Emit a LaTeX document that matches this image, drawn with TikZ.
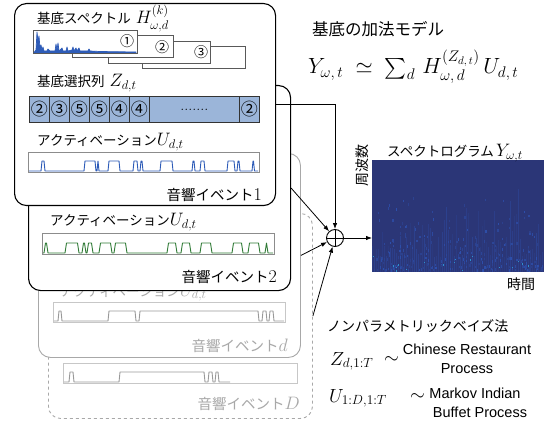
\RequirePackage{fix-cm}
\documentclass[tikz,border=0pt]{standalone}
\usepackage{amsmath}
\usepackage{fontspec}
\newfontfamily\jp{Noto Sans CJK JP}
\newfontfamily\sfa{Liberation Sans}
\usetikzlibrary{arrows.meta}
\definecolor{zfill}{HTML}{9BB5D9}
\definecolor{sigblue}{HTML}{2E5CB8}
\definecolor{siggreen}{HTML}{2F7A35}
\definecolor{evgray}{HTML}{A8A8A8}
\definecolor{specnavy}{HTML}{2B3677}
\definecolor{specblue}{HTML}{2F66DC}
\newcommand\mth[1]{{\fontsize{18}{20}\selectfont$#1$}}
\newcommand\evn[1]{{\fontsize{18}{20}\selectfont#1}}
\tikzset{
  evbox/.style={draw, rounded corners=12pt, fill=white, line width=1.1pt, anchor=north west, inner sep=0pt},
  abox/.style={draw=black!45, line width=0.6pt, anchor=north west, inner sep=0pt},
  sbox/.style={draw=black!65, fill=white, line width=0.8pt, anchor=north west, inner sep=0pt, minimum height=22pt},
  zcell/.style={draw=black!80, fill=zfill, line width=0.7pt, anchor=north west, inner sep=0pt, minimum height=26pt, font=\jp\fontsize{17}{18}\selectfont},
  lbl/.style={inner sep=0pt, anchor=base west, font=\fontsize{13.5}{16}\selectfont},
  evlbl/.style={inner sep=0pt, anchor=base east, font=\fontsize{14.5}{16}\selectfont},
  sig/.style={line width=0.9pt, line join=round},
  conn/.style={-{Latex[length=6pt,width=4.5pt]}, line width=0.8pt},
}
\begin{document}
\begin{tikzpicture}[x=1pt,y=-1pt]
\useasboundingbox (0,0) rectangle (548,427);

% ---------- event D ----------
\node[evbox, dashed, draw=evgray, line width=0.9pt, minimum width=264pt, minimum height=205pt] (evD) at (48,213) {};
\node[abox, draw=black!22, minimum width=234pt, minimum height=20pt] (aD) at (63,363) {};
\draw[sig, draw=black!40] (64,382) foreach \a/\b in {69/74,119/205,208/213,215/219} { -- (\a,382) -- (\a+1,372) -- (\b-1,372) -- (\b,382) } -- (230,382);
\node[evlbl, text=evgray] (lD) at (300,409) {{\jp 音響イベント}\evn{$D$}};

% ---------- event d ----------
\node[evbox, draw=evgray, line width=0.9pt, minimum width=262pt, minimum height=204pt] (evd) at (38,153) {};
\node[lbl, text=evgray] (actd) at (60,296) {{\jp アクティベーション}\mth{U_{d,t}}};
\node[abox, draw=black!22, minimum width=232pt, minimum height=20pt] (ad) at (53,302) {};
\draw[sig, draw=black!40] (54,321) foreach \a/\b in {58/62,108/136,139/259,262/267,269/274} { -- (\a,321) -- (\a+1,311) -- (\b-1,311) -- (\b,321) } -- (284,321);
\node[evlbl, text=evgray] (ld) at (288,351) {{\jp 音響イベント}\evn{$d$}};

% ---------- event 2 ----------
\node[evbox, minimum width=262pt, minimum height=205pt] (ev2) at (28,85) {};
\node[lbl] (act2) at (50,226) {{\jp アクティベーション}\mth{U_{d,t}}};
\node[abox, minimum width=232pt, minimum height=21pt] (a2) at (42,233) {};
\draw[sig, draw=siggreen] (43,253) foreach \a/\b in {44/48,65/79,82/86,87/93,99/112,114/127,167/177,181/191,200/212,232/243,248/260,265/268} { -- (\a,253) -- (\a+1.5,243) -- (\b-1.5,243) -- (\b,253) } -- (273,253);
\node[evlbl] (l2) at (277,283) {{\jp 音響イベント}\evn{\rmfamily 2}};

% ---------- event 1 ----------
\node[evbox, minimum width=261pt, minimum height=202pt] (ev1) at (14,3) {};
\node[lbl] (hlab) at (37,24) {{\jp 基底スペクトル}\hspace{5pt}\mth{H^{(k)}_{\omega,d}}};
\node[sbox, minimum width=103pt] (s4) at (142,46) {};
\node[sbox, minimum width=102pt] (s3) at (108,41) {};
\node[sbox, minimum width=101pt] (s2) at (72,35) {};
\node[sbox, minimum width=104pt, minimum height=23pt] (s1) at (33,30) {};
\node[inner sep=0pt, font=\jp\fontsize{14}{15}\selectfont] (n1) at (127,41) {①};
\node[inner sep=0pt, font=\jp\fontsize{14}{15}\selectfont] (n2) at (162,47) {②};
\node[inner sep=0pt, font=\jp\fontsize{14}{15}\selectfont] (n3) at (201,52) {③};
\filldraw[sigblue, line width=0.7pt, line join=round] (34,52.5) -- (36,50) -- (37,32) -- (38,41) -- (39,36) -- (40,48) -- (41,45) -- (42,50) -- (43,47) -- (44,51) -- (47,51) -- (48,49) -- (50,51) -- (55,51) -- (56,44) -- (57,50) -- (58,43) -- (59,51) -- (62,48) -- (63,51) -- (66,51) -- (67,47) -- (68,51) -- (72,50) -- (73,47) -- (74,51) -- (76,48) -- (77,51) -- (79,48) -- (80,51) -- (88,51) -- (89,49) -- (90,51) -- (100,51.5) -- (136,52) -- (136,52.6) -- cycle;

\node[lbl] (zlab) at (37,87) {{\jp 基底選択列}\hspace{5pt}\mth{Z_{d,t}}};
\node[zcell, minimum width=20pt] (z1) at (29,96) {②};
\node[zcell, minimum width=20pt] (z2) at (49,96) {③};
\node[zcell, minimum width=20pt] (z3) at (69,96) {⑤};
\node[zcell, minimum width=20pt] (z4) at (89,96) {⑤};
\node[zcell, minimum width=20pt] (z5) at (109,96) {④};
\node[zcell, minimum width=20pt] (z6) at (129,96) {④};
\node[zcell, minimum width=90pt, font=\fontsize{16}{17}\selectfont] (z7) at (149,96) {.......};
\node[zcell, minimum width=20pt] (z8) at (239,96) {②};

\node[lbl] (act1) at (37,146) {{\jp アクティベーション}\mth{U_{d,t}}};
\node[abox, minimum width=231pt, minimum height=20pt] (a1) at (28,152) {};
\draw[sig, draw=sigblue] (29,171) foreach \a/\b in {41/45,84/96,97/99,108/120,133/138,140/143,160/173,192/195,200/205,227/235,237/240,252/254.5} { -- (\a,171) -- (\a+1,161) -- (\b-1,161) -- (\b,171) } -- (258,171);
\node[evlbl] (l1) at (262,201) {{\jp 音響イベント}\evn{\rmfamily 1}};

% ---------- right column ----------
\node[inner sep=0pt, anchor=base west, font=\jp\fontsize{16.5}{18}\selectfont] (mtitle) at (312,36) {基底の加法モデル};
\node[inner sep=0pt, anchor=base west, font=\fontsize{22}{24}\selectfont] (model) at (308,74) {$Y_{\omega,\,t}\;\simeq\;\sum_{d}\,H^{(Z_{d,\,t})}_{\omega,\,d}\,U_{d,\,t}$};

% spectrogram
\node[anchor=north west, inner sep=0pt, minimum width=172pt, minimum height=112pt, fill=specnavy] (spec) at (372,160) {};
\begin{scope}
\clip (372,160) rectangle (544,272);
\pgfmathsetseed{4242}
\foreach \i in {0,...,85} {
  \pgfmathsetmacro{\hh}{15+70*rnd*rnd}
  \pgfmathsetmacro{\cc}{6+18*rnd}
  \fill[specblue!\cc!specnavy] (372+2*\i,272) rectangle ++(1.4,-\hh);
}
\foreach \i in {1,...,260} {
  \pgfmathsetmacro{\xx}{372+171*rnd}
  \pgfmathsetmacro{\yy}{272-80*rnd*rnd}
  \pgfmathsetmacro{\cc}{18+35*rnd}
  \fill[specblue!\cc!specnavy] (\xx,\yy) rectangle ++(1.2,-2.5);
}
\foreach \i in {1,...,18} {
  \pgfmathsetmacro{\xx}{372+171*rnd}
  \pgfmathsetmacro{\yy}{272-15*rnd}
  \fill[cyan!50!specblue] (\xx,\yy) rectangle ++(1,-1.5);
}
\end{scope}
\node[inner sep=0pt, anchor=base west, font=\fontsize{13.5}{15}\selectfont] (speclab) at (387,157) {{\jp スペクトログラム}\,\mth{Y_{\omega,t}}};
\node[inner sep=0pt, rotate=90, font=\jp\fontsize{14}{15}\selectfont] (freq) at (362,166) {周波数};
\node[inner sep=0pt, font=\jp\fontsize{14}{15}\selectfont] (time) at (521,284) {時間};

% sum
\node[circle, draw, line width=0.9pt, minimum size=17pt, inner sep=0pt] (sum) at (335,238) {};
\draw[line width=0.9pt] (sum.north) -- (sum.south) (sum.west) -- (sum.east);

% connectors
\draw[conn] (ev1.east) -| (sum.north);
\draw[conn] (ev2.east) -- (sum);
\draw[conn] (evd.east) -- (sum);
\draw[conn] (evD.east) -- (sum);
\draw[conn] (sum.east) -- (sum.east -| spec.west);

% nonparametric
\node[inner sep=0pt, anchor=base west, font=\jp\fontsize{14}{16}\selectfont] (nptitle) at (327,331) {ノンパラメトリックベイズ法};
\node[inner sep=0pt, anchor=base west, font=\fontsize{19}{21}\selectfont] (zf) at (330,365) {$Z_{d,1:T}$};
\node[inner sep=0pt, anchor=base west, font=\fontsize{19}{21}\selectfont] (zt) at (384,363) {$\sim$};
\node[inner sep=0pt, anchor=base, font=\sfa\fontsize{14.5}{17}\selectfont] (crp1) at (467,354) {Chinese Restaurant};
\node[inner sep=0pt, anchor=base, font=\sfa\fontsize{14.5}{17}\selectfont] (crp2) at (467,373) {Process};
\node[inner sep=0pt, anchor=base west, font=\fontsize{19}{21}\selectfont] (uf) at (329,402) {$U_{1:D,1:T}$};
\node[inner sep=0pt, anchor=base west, font=\fontsize{19}{21}\selectfont] (ut) at (410,400) {$\sim$};
\node[inner sep=0pt, anchor=base, font=\sfa\fontsize{14.5}{17}\selectfont] (mib1) at (475,398) {Markov Indian};
\node[inner sep=0pt, anchor=base, font=\sfa\fontsize{14.5}{17}\selectfont] (mib2) at (480,417) {Buffet Process};
\end{tikzpicture}
\end{document}
